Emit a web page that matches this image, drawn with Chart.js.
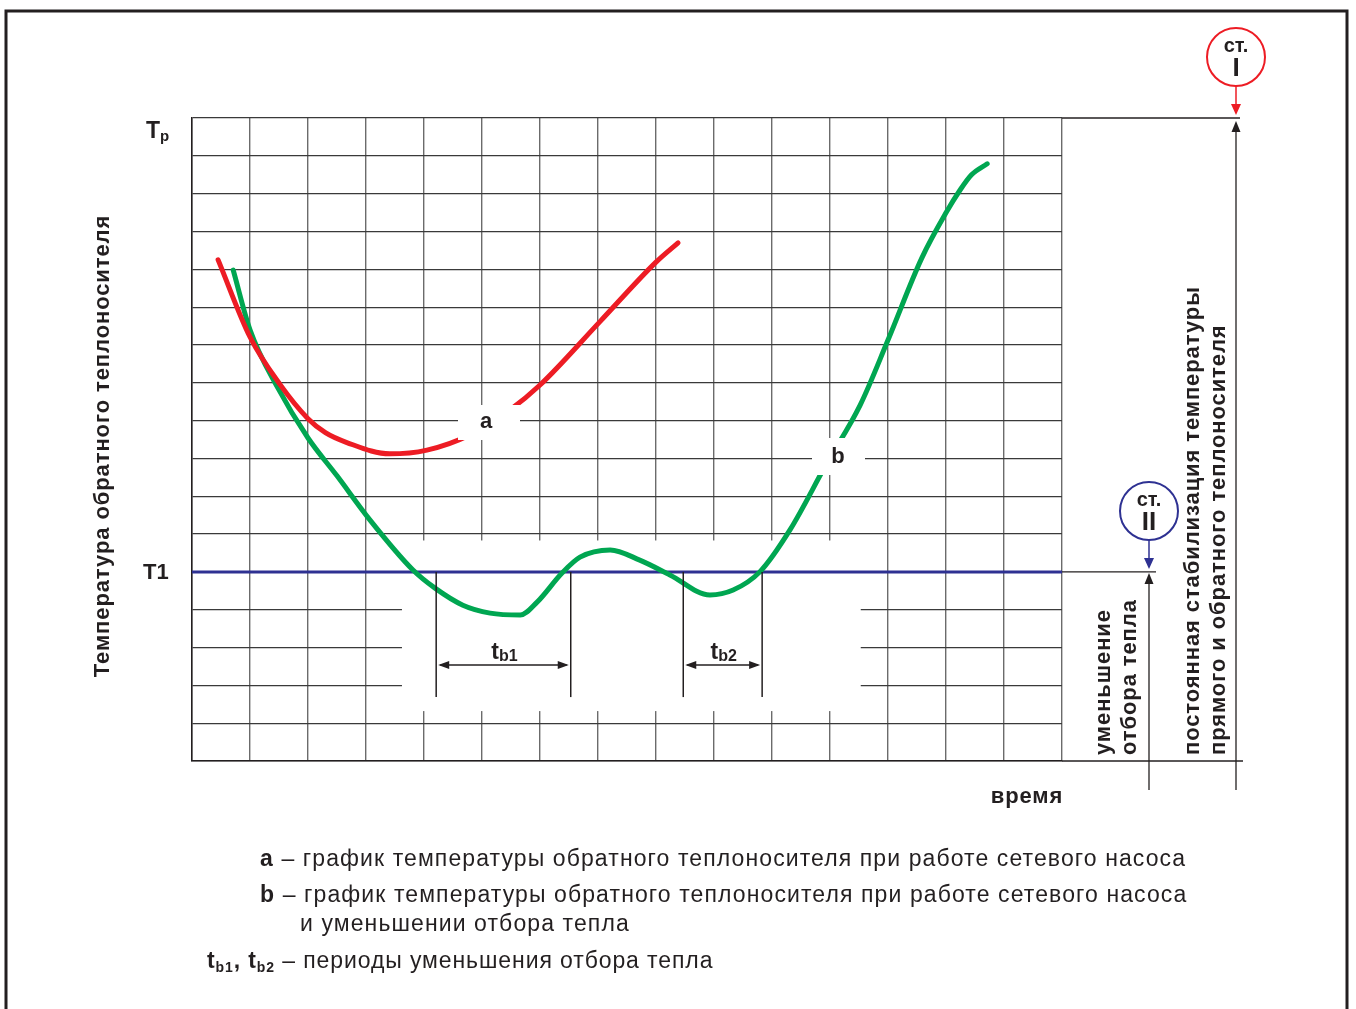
<!DOCTYPE html>
<html>
<head>
<meta charset="utf-8">
<script src="https://cdn.jsdelivr.net/npm/chart.js@4.4.0/dist/chart.umd.min.js"></script>
<style>
  html, body { margin: 0; padding: 0; background: #fff; overflow: hidden; }
</style>
</head>
<body>
<canvas id="chart" width="1356" height="1009"></canvas>
<script>
// --- Данные ---
const gridCols = 15;   // деления по времени
const gridRows = 17;   // деления по температуре
const levelT1 = 5;
const levelTp = 17;

// кривая a
const curveAX = [0.45, 1.0, 1.52, 2.0, 2.3, 2.67, 3.41, 4.05, 4.79, 5.48, 6.0, 7.03, 8.0, 8.38];
const curveAY = [13.25, 11.21, 9.95, 9.05, 8.68, 8.42, 8.12, 8.22, 8.62, 9.28, 9.94, 11.61, 13.19, 13.70];

// кривая b
const curveBX = [0.71, 1.0, 1.47, 2.0, 2.5, 3.07, 3.81, 4.19, 4.67, 5.14, 5.66, 5.95, 6.38, 6.69, 7.21, 7.72, 8.24, 8.93, 9.33, 9.79, 10.31, 10.93, 11.52, 12.0, 12.58, 13.01, 13.24, 13.44, 13.71];
const curveBY = [12.98, 11.40, 9.89, 8.54, 7.54, 6.37, 5.05, 4.57, 4.12, 3.91, 3.86, 4.20, 4.97, 5.39, 5.58, 5.31, 4.92, 4.39, 4.52, 5.0, 6.11, 7.83, 9.41, 11.13, 13.29, 14.52, 15.09, 15.50, 15.79];

// периоды уменьшения отбора тепла (начало, конец)
const periodStart = [4.21, 8.47];
const periodEnd = [6.53, 9.83];
const periodNames = ['b1', 'b2'];

const yTitle = 'Температура обратного теплоносителя';
const xTitle = 'время';
const labelT1 = 'T1';
const labelTp = ['T', 'p'];
const stageI = ['ст.', 'I'];
const stageII = ['ст.', 'II'];
const noteII = ['уменьшение', 'отбора тепла'];
const noteI = ['постоянная стабилизация температуры', 'прямого и обратного теплоносителя'];
const legendA = 'график температуры обратного теплоносителя при работе сетевого насоса';
const legendB = ['график температуры обратного теплоносителя при работе сетевого насоса', 'и уменьшении отбора тепла'];
const legendT = 'периоды уменьшения отбора тепла';

const ink = '#231f20';
const red = '#ed1c24';
const green = '#00a651';
const blue = '#2e3192';
const FONT = '"Liberation Sans", Arial, sans-serif';

const toPoints = (xs, ys) => xs.map((x, i) => ({ x: x, y: ys[i] }));

// --- Вспомогательные функции рисования ---
function rich(ctx, x, y, parts, spacing) {
  // parts: [text, size, bold, dy]
  ctx.textAlign = 'left';
  ctx.textBaseline = 'alphabetic';
  ctx.letterSpacing = (spacing || 0) + 'px';
  let cx = x;
  parts.forEach(p => {
    ctx.font = (p[2] ? 'bold ' : '') + p[1] + 'px ' + FONT;
    ctx.fillText(p[0], cx, y + (p[3] || 0));
    cx += ctx.measureText(p[0]).width;
  });
  ctx.letterSpacing = '0px';
  return cx;
}

function arrowHead(ctx, x, y, dir, len, half) {
  ctx.beginPath();
  ctx.moveTo(x, y);
  if (dir === 'up') { ctx.lineTo(x - half, y + len); ctx.lineTo(x + half, y + len); }
  if (dir === 'down') { ctx.lineTo(x - half, y - len); ctx.lineTo(x + half, y - len); }
  if (dir === 'left') { ctx.lineTo(x + len, y - half); ctx.lineTo(x + len, y + half); }
  if (dir === 'right') { ctx.lineTo(x - len, y - half); ctx.lineTo(x - len, y + half); }
  ctx.closePath();
  ctx.fill();
}

function line(ctx, x1, y1, x2, y2, w, c) {
  ctx.strokeStyle = c;
  ctx.lineWidth = w;
  ctx.beginPath();
  ctx.moveTo(x1, y1);
  ctx.lineTo(x2, y2);
  ctx.stroke();
}

// белая область под Т1 (сетка там не видна)
const maskPlugin = {
  id: 'mask',
  beforeDatasetsDraw(chart) {
    const { ctx, scales: { x, y } } = chart;
    ctx.save();
    ctx.fillStyle = '#fff';
    const x1 = x.getPixelForValue(3.62), x2 = x.getPixelForValue(11.53);
    const y1 = y.getPixelForValue(5.83), y2 = y.getPixelForValue(1.32);
    ctx.fillRect(x1, y1, x2 - x1, y2 - y1);
    ctx.restore();
  }
};

const notesPlugin = {
  id: 'notes',
  afterDatasetsDraw(chart) {
    const { ctx, scales: { x, y } } = chart;
    const area = chart.chartArea;
    ctx.save();

    // подписи кривых на белом фоне
    ctx.fillStyle = '#fff';
    ctx.fillRect(458, 405, 62, 35);
    ctx.fillRect(812, 438, 53, 37);
    ctx.fillStyle = ink;
    ctx.font = 'bold 22px ' + FONT;
    ctx.textAlign = 'center';
    ctx.textBaseline = 'middle';
    ctx.fillText('a', 486, 422);
    ctx.fillText('b', 838, 457);

    // периоды tb1, tb2
    const yT1 = y.getPixelForValue(levelT1);
    const yLow = y.getPixelForValue(1.69);
    const yArr = y.getPixelForValue(2.54);
    periodStart.forEach((s, i) => {
      const xs = x.getPixelForValue(s), xe = x.getPixelForValue(periodEnd[i]);
      line(ctx, xs, yT1, xs, yLow, 1.5, ink);
      line(ctx, xe, yT1, xe, yLow, 1.5, ink);
      line(ctx, xs + 4, yArr, xe - 4, yArr, 1.5, ink);
      ctx.fillStyle = ink;
      arrowHead(ctx, xs + 2, yArr, 'left', 11, 4);
      arrowHead(ctx, xe - 2, yArr, 'right', 11, 4);
      ctx.font = 'bold 23px ' + FONT;
      const w1 = ctx.measureText('t').width;
      ctx.font = 'bold 16px ' + FONT;
      const w2 = ctx.measureText(periodNames[i]).width;
      const cx = (xs + xe) / 2 - (w1 + w2) / 2 + 1;
      rich(ctx, cx, yArr - 6, [['t', 23, true], [periodNames[i], 16, true, 2]]);
    });

    // метки Tp и T1
    ctx.fillStyle = ink;
    rich(ctx, 146, y.getPixelForValue(levelTp) + 20, [[labelTp[0], 23, true], [labelTp[1], 15, true, 3]]);
    ctx.font = 'bold 22px ' + FONT;
    ctx.textAlign = 'left';
    ctx.textBaseline = 'middle';
    ctx.fillText(labelT1, 143, yT1 + 1);

    // подписи осей
    ctx.letterSpacing = '0.9px';
    ctx.save();
    ctx.translate(103, 446);
    ctx.rotate(-Math.PI / 2);
    ctx.font = 'bold 22px ' + FONT;
    ctx.textAlign = 'center';
    ctx.textBaseline = 'middle';
    ctx.fillText(yTitle, 0, 0);
    ctx.restore();
    ctx.font = 'bold 22px ' + FONT;
    ctx.textAlign = 'center';
    ctx.textBaseline = 'middle';
    ctx.fillText(xTitle, 1027, 797);
    ctx.letterSpacing = '0px';

    // правая часть: продолжения линий и стрелки
    const yTp = y.getPixelForValue(levelTp);
    const yB = area.bottom;
    line(ctx, area.right, yTp, 1240, yTp, 1.3, ink);
    line(ctx, area.right, yT1, 1156, yT1, 1.3, ink);
    line(ctx, area.right, yB, 1243, yB, 1.3, ink);
    line(ctx, 1149, yT1 + 10, 1149, 790, 1.3, ink);
    line(ctx, 1236, yTp + 10, 1236, 790, 1.3, ink);
    ctx.fillStyle = ink;
    arrowHead(ctx, 1149, yT1 + 1, 'up', 11, 4.5);
    arrowHead(ctx, 1236, yTp + 3, 'up', 11, 4.5);

    // ступени I и II
    const stage = (cx, cy, col, lines, tip) => {
      ctx.strokeStyle = col;
      ctx.lineWidth = 2;
      ctx.beginPath();
      ctx.arc(cx, cy, 29, 0, Math.PI * 2);
      ctx.stroke();
      line(ctx, cx, cy + 29, cx, tip - 8, 1.5, col);
      ctx.fillStyle = col;
      arrowHead(ctx, cx, tip, 'down', 11, 5);
      ctx.fillStyle = ink;
      ctx.textAlign = 'center';
      ctx.textBaseline = 'middle';
      ctx.font = 'bold 20px ' + FONT;
      ctx.fillText(lines[0], cx, cy - 11);
      ctx.font = 'bold 26px ' + FONT;
      ctx.fillText(lines[1], cx, cy + 12);
    };
    stage(1236, 57, red, stageI, yTp - 3);
    stage(1149, 511, blue, stageII, yT1 - 3);

    // вертикальные пояснения
    const vtext = (px, txt) => {
      ctx.save();
      ctx.translate(px, 755);
      ctx.rotate(-Math.PI / 2);
      ctx.font = 'bold 22px ' + FONT;
      ctx.letterSpacing = '0.9px';
      ctx.textAlign = 'left';
      ctx.textBaseline = 'middle';
      ctx.fillText(txt, 0, 0);
      ctx.restore();
    };
    ctx.fillStyle = ink;
    vtext(1104, noteII[0]);
    vtext(1130, noteII[1]);
    vtext(1193, noteI[0]);
    vtext(1219, noteI[1]);
    ctx.letterSpacing = '0px';

    // рамка
    ctx.strokeStyle = ink;
    ctx.lineWidth = 3;
    ctx.strokeRect(6, 11, 1341, 1010);

    // пояснения внизу
    ctx.fillStyle = ink;
    rich(ctx, 260, 866, [['a', 23, true], [' – ' + legendA, 23, false]], 1.1);
    rich(ctx, 260, 902, [['b', 23, true], [' – ' + legendB[0], 23, false]], 1.1);
    rich(ctx, 300, 931, [[legendB[1], 23, false]], 1.1);
    rich(ctx, 207, 968, [['t', 23, true], ['b1', 14, true, 4], [', ', 23, true], ['t', 23, true], ['b2', 14, true, 4], [' – ' + legendT, 23, false]], 0.9);
    ctx.restore();
  }
};

new Chart(document.getElementById('chart'), {
  type: 'line',
  data: {
    datasets: [
      {
        label: 'a',
        data: toPoints(curveAX, curveAY),
        borderColor: red,
        borderWidth: 5,
        borderCapStyle: 'round',
        cubicInterpolationMode: 'monotone',
        pointRadius: 0
      },
      {
        label: 'b',
        data: toPoints(curveBX, curveBY),
        borderColor: green,
        borderWidth: 5,
        borderCapStyle: 'round',
        cubicInterpolationMode: 'monotone',
        pointRadius: 0
      },
      {
        label: 'T1',
        data: [{ x: 0, y: levelT1 }, { x: gridCols, y: levelT1 }],
        borderColor: blue,
        borderWidth: 3,
        pointRadius: 0
      }
    ]
  },
  options: {
    responsive: false,
    animation: false,
    devicePixelRatio: 1,
    layout: { padding: { left: 192, right: 294, top: 118, bottom: 248 } },
    plugins: { legend: { display: false }, tooltip: { enabled: false } },
    scales: {
      x: {
        type: 'linear', min: 0, max: gridCols,
        ticks: { display: false, stepSize: 1, maxTicksLimit: 100 },
        grid: { drawTicks: false, color: '#6b6b6b', lineWidth: 1.4 },
        border: { color: ink, width: 1.5 }
      },
      y: {
        type: 'linear', min: 0, max: gridRows,
        ticks: { display: false, stepSize: 1, maxTicksLimit: 100 },
        grid: { drawTicks: false, color: '#3a3a3a', lineWidth: 1.2 },
        border: { color: ink, width: 1.5 }
      }
    }
  },
  plugins: [maskPlugin, notesPlugin]
});
</script>
</body>
</html>
